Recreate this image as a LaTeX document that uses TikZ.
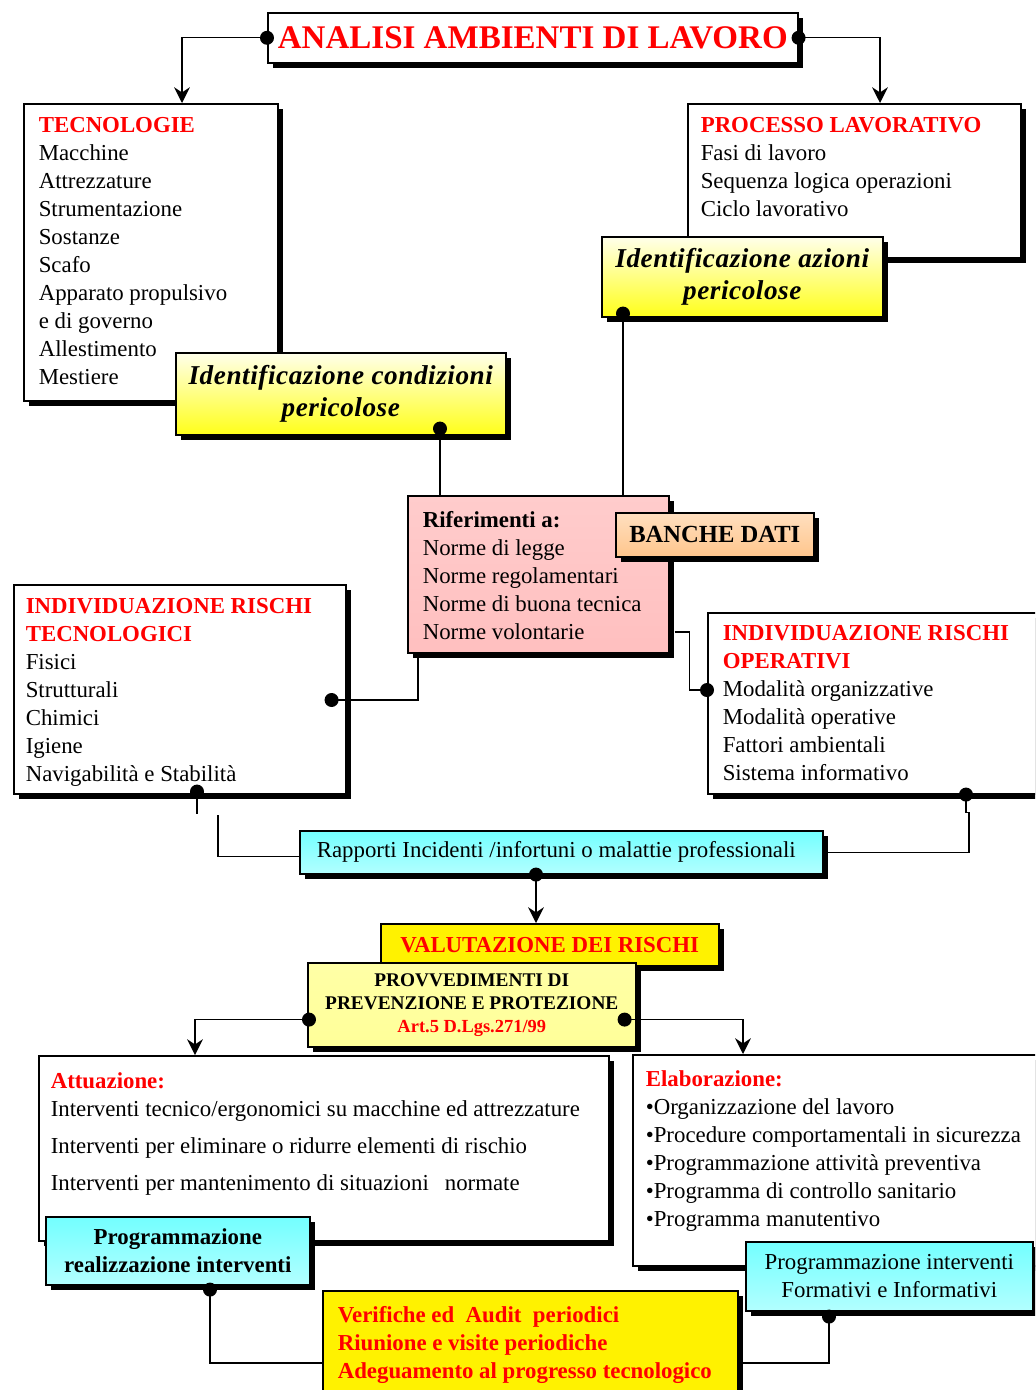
\documentclass[tikz,border=0pt]{standalone}
\usepackage{fontspec}
\setmainfont{Liberation Serif}
\usepackage{tikz}
\usetikzlibrary{calc,shadows,arrows.meta}
\newlength{\pxu}
\setlength{\pxu}{0.02cm}
% box text, left aligned: width, height, left pad, top pad, text
\newcommand{\lbox}[5]{\parbox[c][#2\pxu][t]{#1\pxu}{\vspace*{#4\pxu}\leftskip=#3\pxu\relax #5\par}}
% box text, centred: width, height, text
\newcommand{\cbox}[3]{\parbox[c][#2\pxu][c]{#1\pxu}{\centering #3\par}}
\newcommand{\hd}[1]{{\color{red}\bfseries #1}}
\newcommand{\idfont}{\bfseries\itshape\fontsize{15.5}{18.7}\selectfont\addfontfeatures{LetterSpace=2}}
\tikzset{
  box/.style={draw=black, line width=0.9pt, inner sep=0pt, anchor=north west,
    fill=white, font=\fontsize{13}{15.9}\selectfont,
    drop shadow={shadow xshift=0.1cm, shadow yshift=-0.1cm, opacity=1, fill=black}},
  paleyellow/.style={top color=yellow!8, bottom color=yellow!90},
  lightyellow/.style={top color=yellow!35, middle color=yellow!8, bottom color=yellow!40},
  pinkgrad/.style={top color=red!20, middle color=white, bottom color=red!25},
  peachgrad/.style={top color=orange!25, middle color=orange!8, bottom color=orange!45},
  cyangrad/.style={top color=cyan!55, middle color=cyan!8, bottom color=cyan!30},
  solidyellow/.style={fill=yellow},
  link/.style={line width=0.8pt},
  linkarrow/.style={link, -{Stealth[length=9pt,width=9pt,inset=3pt]}},
}
\begin{document}
\begin{tikzpicture}[x=0.02cm,y=-0.02cm]
%
\useasboundingbox (0,0) rectangle (1035,1390);
\clip (0,0) rectangle (1035,1390);
%
\node[box] (title) at (267,12) {\cbox{530}{50}{\color{red}\bfseries\fontsize{18.8}{22}\selectfont ANALISI AMBIENTI DI LAVORO}};
%
\node[box] (tecno) at (23,103) {\lbox{254}{297}{15}{14}{\hd{TECNOLOGIE}\\
  Macchine\\ Attrezzature\\ Strumentazione\\ Sostanze\\ Scafo\\
  Apparato propulsivo\\ e di governo\\ Allestimento\\ Mestiere}};
\node[box,paleyellow] (idcond) at (175,352) {\cbox{330}{82}{\idfont Identificazione condizioni\\ pericolose}};
%
\node[box] (proc) at (687,103) {\lbox{333}{154}{13}{14}{\hd{PROCESSO LAVORATIVO}\\
  Fasi di lavoro\\ Sequenza logica operazioni\\ Ciclo lavorativo}};
\node[box,paleyellow] (idaz) at (601,236) {\cbox{281}{80}{\idfont Identificazione azioni\\ pericolose}};
%
\node[box,pinkgrad] (rif) at (407,495) {\lbox{261}{157}{15}{16}{\textbf{Riferimenti a:}\\
  Norme di legge\\ Norme regolamentari\\ Norme di buona tecnica\\ Norme volontarie}};
\node[box,peachgrad] (banche) at (615,512) {\cbox{198}{44}{\bfseries\fontsize{14}{16}\selectfont BANCHE DATI}};
%
\node[box] (rtec) at (13,584) {\lbox{332}{209}{12}{14}{\hd{INDIVIDUAZIONE RISCHI\\ TECNOLOGICI}\\
  Fisici\\ Strutturali\\ Chimici\\ Igiene\\ Navigabilità e Stabilità}};
\node[box] (rop) at (707,612) {\lbox{345}{181}{15}{13}{\hd{INDIVIDUAZIONE RISCHI\\ OPERATIVI}\\
  Modalità organizzative\\ Modalità operative\\ Fattori ambientali\\ Sistema informativo}};
%
\node[box,cyangrad] (rap) at (299,830) {\cbox{523}{43}{Rapporti Incidenti /infortuni o malattie professionali\hspace*{10\pxu}}};
%
\node[box,solidyellow] (val) at (380,923) {\cbox{338}{42}{\color{red}\bfseries VALUTAZIONE DEI RISCHI}};
\node[box,lightyellow] (provv) at (307,962) {\cbox{328}{84}{\bfseries\fontsize{11}{13}\selectfont PROVVEDIMENTI DI\\
  PREVENZIONE E PROTEZIONE\\ {\color{red}\fontsize{10.5}{13}\selectfont Art.5 D.Lgs.271/99}}};
%
\node[box] (att) at (38,1055) {\lbox{570}{185}{12}{17}{\hd{Attuazione:}\\
  Interventi tecnico/ergonomici su macchine ed attrezzature\\[5pt]
  Interventi per eliminare o ridurre elementi di rischio\\[5pt]
  Interventi per mantenimento di situazioni\hspace{0.7em}normate}};
\node[box,cyangrad] (progreal) at (45,1216) {\cbox{264}{68}{\bfseries Programmazione\\ realizzazione interventi}};
%
\node[box] (elab) at (632,1054) {\lbox{420}{211}{13}{16}{\hd{Elaborazione:}\\
  •Organizzazione del lavoro\\ •Procedure comportamentali in sicurezza\\
  •Programmazione attività preventiva\\ •Programma di controllo sanitario\\
  •Programma manutentivo}};
\node[box,cyangrad] (progform) at (745,1241) {\cbox{287}{69}{Programmazione interventi\\ Formativi e Informativi}};
%
\node[box,solidyellow] (ver) at (322,1290) {\lbox{415}{115}{15}{16}{\color{red}\bfseries
  Verifiche ed~ Audit~ periodici\\ Riunione e visite periodiche\\ Adeguamento al progresso tecnologico}};
%
\coordinate (pcond) at ($(idcond.south west)+(265,-7)$);
\coordinate (pazi) at ($(idaz.south west)+(22,-4)$);
\coordinate (ptec) at ($(rtec.north east)+(-15,116)$);
\coordinate (pop) at ($(rop.north west)+(0,78)$);
\coordinate (ptecb) at ($(rtec.south west)+(184,-3)$);
\coordinate (popb) at ($(rop.south west)+(259,0)$);
\coordinate (prap) at ($(rap.south west)+(237,0)$);
\coordinate (pprl) at ($(provv.south west)+(2,-28)$);
\coordinate (pprr) at ($(provv.south east)+(-12,-28)$);
\coordinate (preal) at ($(progreal.south west)+(165,4)$);
\coordinate (pform) at ($(progform.south west)+(84,5)$);
%
\draw[linkarrow] (title.west) -| ($(tecno.north west)+(159,0)$);
\draw[linkarrow] (title.east) -| ($(proc.north west)+(193,0)$);
\draw[link] (pcond) -- (pcond |- rif.north);
\draw[link] (pazi) -- (pazi |- rif.north);
\draw[link] ($(rif.south west)+(11,0)$) |- (ptec);
\draw[link] ($(rif.north east)+(5,137)$) -- ++(15,0) |- (pop);
\draw[link] (ptecb) -- ++(0,22);
\draw[link] ($(rap.west)+(0,4)$) -| ($(rtec.south west)+(205,20)$);
\draw[link] (popb) -- ++(0,18) -- ++(3,0) |- (rap.east);
\draw[linkarrow] (prap) -- (prap |- val.north);
\draw[linkarrow] (pprl) -| ($(att.north west)+(157,0)$);
\draw[linkarrow] (pprr) -| ($(elab.north west)+(111,0)$);
\draw[link] (preal) |- ($(ver.north west)+(0,73)$);
\draw[link] (pform) |- ($(ver.north east)+(0,73)$);
%
\foreach \p in {title.west,title.east,pcond,pazi,ptec,pop,ptecb,popb,prap,pprl,pprr,preal,pform}
  \fill (\p) circle[radius=0.14cm];
%
\end{tikzpicture}
\end{document}
